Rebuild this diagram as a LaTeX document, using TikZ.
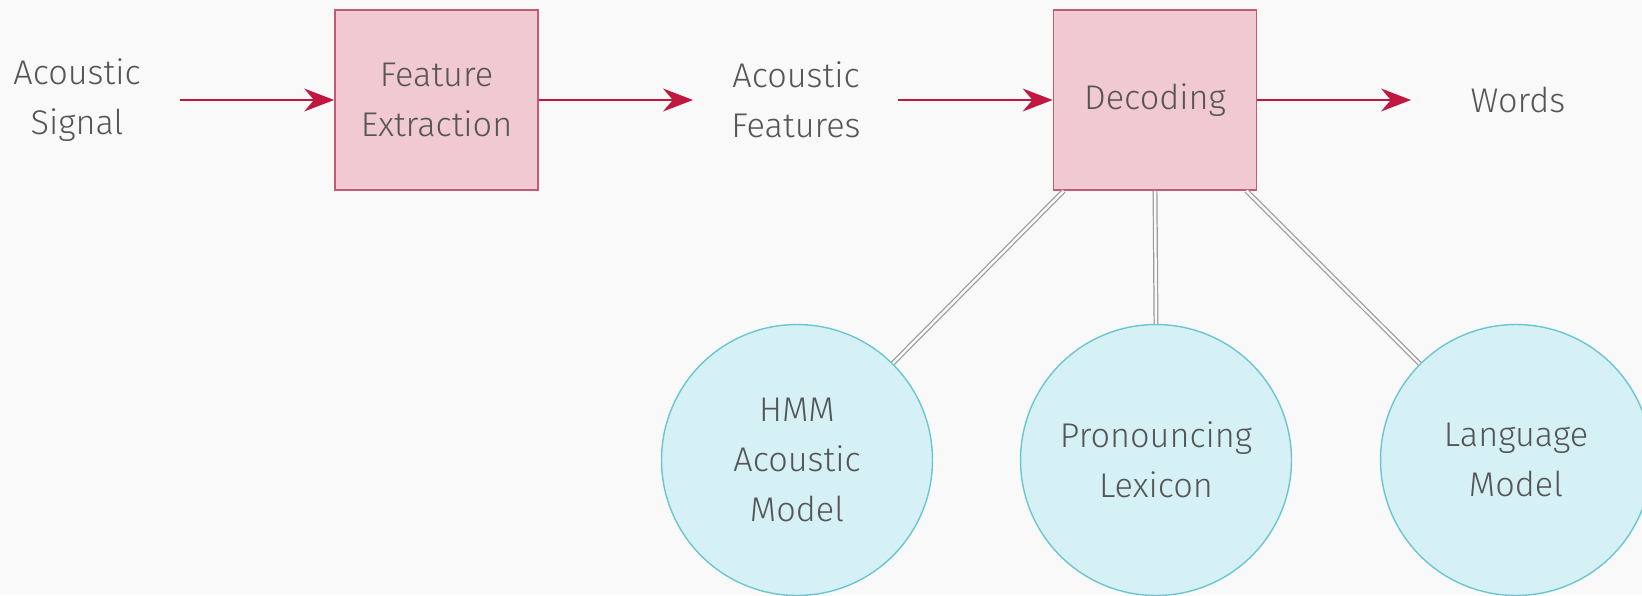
\documentclass[tikz,border=0pt]{standalone}
\usepackage{fontspec}
\setmainfont{Fira Sans Light}
\usetikzlibrary{arrows.meta,calc}
\definecolor{bgc}{HTML}{F9F9F9}
\definecolor{boxfill}{HTML}{F0C9D1}
\definecolor{boxline}{HTML}{C25B75}
\definecolor{arrowc}{HTML}{C0163F}
\definecolor{circfill}{HTML}{D5F1F5}
\definecolor{circline}{HTML}{6CC6CE}
\definecolor{txt}{HTML}{555555}
\definecolor{dblc}{HTML}{9A9A9A}
\tikzset{
  lbl/.style={text=txt, align=center, font={\fontsize{19.5}{28.5}\selectfont}},
  procbox/.style={lbl, draw=boxline, fill=boxfill, line width=1pt, minimum width=4.06cm, minimum height=3.6cm, inner sep=0pt},
  modelcirc/.style={lbl, circle, draw=circline, fill=circfill, line width=0.8pt, minimum size=5.42cm, inner sep=0pt},
  flow/.style={draw=arrowc, line width=1.1pt, -{Stealth[length=17pt, width=13pt, inset=5.5pt]}},
  link/.style={draw=dblc, line width=0.7pt, double=bgc, double distance=1.4pt}
}
\begin{document}
\begin{tikzpicture}[x=0.02cm, y=-0.02cm]
  \fill[bgc] (0,0) rectangle (1642,595);
  \useasboundingbox (0,0) rectangle (1642,595);

  \node[lbl] (sig) at (77,100) {Acoustic\\Signal};
  \node[procbox] (fe) at (436.5,100) {Feature\\Extraction};
  \node[lbl] (feat) at (796,100) {Acoustic\\Features};
  \node[procbox] (dec) at (1155,100) {Decoding};
  \node[lbl] (words) at (1518,100) {Words};

  \node[modelcirc] (hmm) at (797,460) {HMM\\Acoustic\\Model};
  \node[modelcirc] (lex) at (1156,460) {Pronouncing\\Lexicon};
  \node[modelcirc] (lang) at (1516,460) {Language\\Model};

  \coordinate (a1) at (180,100);
  \coordinate (a2) at (693,100);
  \coordinate (a3) at (898,100);
  \coordinate (a4) at (1411,100);

  \draw[flow] (a1) -- (fe.west);
  \draw[flow] (fe.east) -- (a2);
  \draw[flow] (a3) -- (dec.west);
  \draw[flow] (dec.east) -- (a4);

  \coordinate (dl) at ($(dec.south west)+(11,0)$);
  \coordinate (dr) at ($(dec.south east)+(-11,0)$);
  \draw[link] (dl) -- (hmm);
  \draw[link] (dec.south) -- (lex.north);
  \draw[link] (dr) -- (lang);
\end{tikzpicture}
\end{document}
